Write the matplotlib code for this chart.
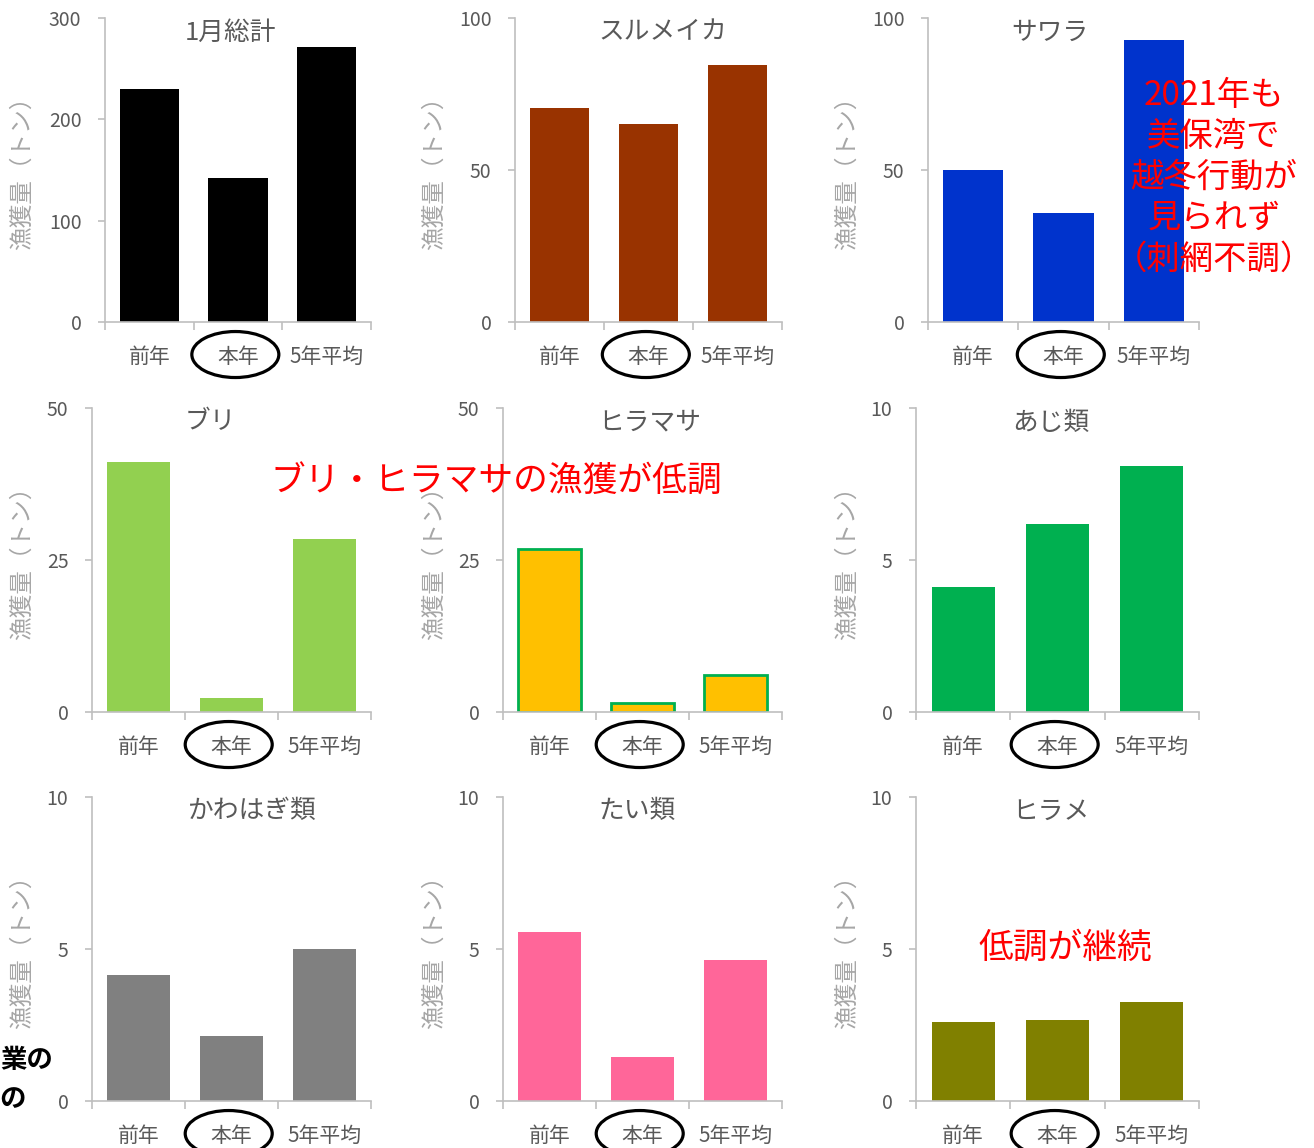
import matplotlib
matplotlib.use('Agg')
import matplotlib.pyplot as plt
from matplotlib.patches import Ellipse
from matplotlib import transforms

plt.rcParams['font.family'] = ['Noto Sans CJK JP', 'DejaVu Sans']

# data (tonnes)
categories = ['前年', '本年', '5年平均']
titles = ['1月総計', 'スルメイカ', 'サワラ', 'ブリ', 'ヒラマサ', 'あじ類', 'かわはぎ類', 'たい類', 'ヒラメ']
total = [230, 142, 271]
surume = [70.4, 65.1, 84.5]
sawara = [50.0, 35.9, 92.8]
buri = [41.1, 2.3, 28.5]
hiramasa = [26.8, 1.5, 6.1]
aji = [4.1, 6.2, 8.1]
kawahagi = [4.15, 2.15, 5.0]
tai = [5.55, 1.45, 4.65]
hirame = [2.6, 2.65, 3.25]
values = [total, surume, sawara, buri, hiramasa, aji, kawahagi, tai, hirame]
y_max = [300, 100, 100, 50, 50, 10, 10, 10, 10]
y_ticks = [[0, 100, 200, 300], [0, 50, 100], [0, 50, 100],
           [0, 25, 50], [0, 25, 50], [0, 5, 10],
           [0, 5, 10], [0, 5, 10], [0, 5, 10]]

bar_colors = ['#000000', '#993300', '#0033cc', '#92d050', '#ffc000',
              '#00b050', '#808080', '#ff6699', '#808000']

W, H = 1314, 1148
fig = plt.figure(figsize=(W / 100, H / 100), dpi=100)

# panel frames in pixels
rows_top = [18, 408, 797]
rows_bottom = [322, 712, 1101]
cols_left = [[105, 515, 928], [92, 503, 916], [92, 503, 916]]
cols_right = [371, 782, 1199]
ylabel_x = [34, 446, 859]
title_x = [231, 663, 1050, 210, 650, 1051, 252, 637, 1051]

grey = '#bfbfbf'
for i in range(9):
    r, c = divmod(i, 3)
    l = cols_left[r][c]
    rt = cols_right[c]
    t = rows_top[r]
    b = rows_bottom[r]
    ax = fig.add_axes([l / W, 1 - b / H, (rt - l) / W, (b - t) / H])
    if i == 4:
        ax.bar(range(3), values[i], width=0.67, color=bar_colors[i],
               edgecolor='#00b050', linewidth=2)
    else:
        ax.bar(range(3), values[i], width=0.67, color=bar_colors[i])
    ax.set_xlim(-0.5, 2.5)
    ax.set_ylim(0, y_max[i])
    ax.set_yticks(y_ticks[i])
    ax.set_xticks([-0.5, 0.5, 1.5, 2.5])
    ax.set_xticklabels([])
    ax.set_xticks([0, 1, 2], minor=True)
    ax.set_xticklabels(categories, minor=True)
    ax.tick_params(axis='x', which='minor', length=0, pad=17,
                   labelsize=15, labelcolor='#595959')
    ax.tick_params(axis='x', which='major', length=6, color=grey, width=1.2)
    ax.tick_params(axis='y', length=5, color=grey, width=1.2, pad=12,
                   labelsize=14, labelcolor='#595959')
    for s in ['top', 'right']:
        ax.spines[s].set_visible(False)
    for s in ['left', 'bottom']:
        ax.spines[s].set_color(grey)
        ax.spines[s].set_linewidth(1.2)
    ax.set_ylabel('漁獲量（トン）', fontsize=17, color='#a6a6a6')
    ax.yaxis.set_label_coords(-(l - ylabel_x[c]) / (rt - l), 0.51)
    ax.text((title_x[i] - l) / (rt - l), 0.995, titles[i], transform=ax.transAxes,
            ha='center', va='top', fontsize=18.5, color='#595959')

    # circle round 本年
    blend = transforms.blended_transform_factory(ax.transData, ax.transAxes)
    off = transforms.ScaledTranslation(0.97, -0.107, blend)
    ax.add_patch(Ellipse((0, 0), 0.87, 0.46, fill=False, edgecolor='black',
                         linewidth=2.3, transform=fig.dpi_scale_trans + off,
                         clip_on=False))

# annotations
fig.text(1214 / W, 1 - 177 / H, '2021年も\n美保湾で\n越冬行動が\n見られず\n（刺網不調）',
         ha='center', va='center', fontsize=24, color='#ff0000', linespacing=1.22)
fig.text(496 / W, 1 - 482 / H, 'ブリ・ヒラマサの漁獲が低調',
         ha='center', va='center', fontsize=25, color='#ff0000')
fig.text(1065 / W, 1 - 948 / H, '低調が継続',
         ha='center', va='center', fontsize=25, color='#ff0000')
fig.text(53 / W, 1 - 1060 / H, '業の', ha='right', va='center',
         fontsize=19, fontweight='bold', color='black')
fig.text(26 / W, 1 - 1100 / H, 'の', ha='right', va='center',
         fontsize=19, fontweight='bold', color='black')

fig.savefig('out.png', dpi=100)
